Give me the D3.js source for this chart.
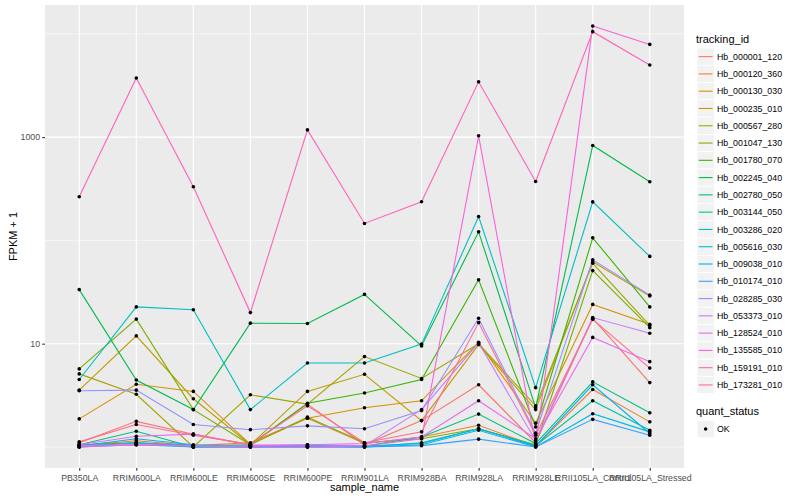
<!DOCTYPE html>
<html><head><meta charset="utf-8">
<script src="https://cdn.jsdelivr.net/npm/d3@7"></script>
<style>body{margin:0;background:#fff}svg{display:block}</style>
</head><body>
<svg id="c" width="800" height="500"></svg>
<script>
const categories = ["PB350LA","RRIM600LA","RRIM600LE","RRIM600SE","RRIM600PE","RRIM901LA","RRIM928BA","RRIM928LA","RRIM928LE","RRII105LA_Control","RRII105LA_Stressed"];
const trackingIds = ["Hb_000001_120","Hb_000120_360","Hb_000130_030","Hb_000235_010","Hb_000567_280","Hb_001047_130","Hb_001780_070","Hb_002245_040","Hb_002780_050","Hb_003144_050","Hb_003286_020","Hb_005616_030","Hb_009038_010","Hb_010174_010","Hb_028285_030","Hb_053373_010","Hb_128524_010","Hb_135585_010","Hb_159191_010","Hb_173281_010"];
const colors = ["#F8766D","#EA8331","#D89000","#C09B00","#A3A500","#7CAE00","#39B600","#00BB4E","#00BF7D","#00C1A3","#00BFC4","#00BAE0","#00B0F6","#35A2FF","#9590FF","#C77CFF","#E76BF3","#FA62DB","#FF62BC","#FF6C91"];
// FPKM + 1 per series, in category order
const s000001_120 = [1.10, 1.77, 1.33, 1.05, 2.6, 1.05, 1.8, 4.0, 1.10, 17.6, 4.2];
const s000120_360 = [1.03, 1.15, 1.03, 1.10, 1.9, 1.08, 1.25, 1.62, 1.02, 3.6, 1.75];
const s000130_030 = [1.87, 4.05, 3.45, 1.06, 1.9, 2.4, 2.8, 10.3, 1.70, 24, 15.4];
const s000235_010 = [3.55, 11.9, 2.93, 1.05, 3.45, 5.05, 1.8, 9.8, 2.3, 62, 29];
const s000567_280 = [5.1, 3.24, 1.0, 3.2, 2.6, 7.5, 4.6, 10.0, 2.5, 60, 15];
const s001047_130 = [5.7, 17.3, 2.3, 1.05, 1.95, 1.1, 1.2, 1.5, 1.05, 51, 14.3];
const s001780_070 = [1.05, 1.1, 1.02, 1.05, 2.65, 3.33, 4.5, 41.5, 1.56, 106, 22.7];
const s002245_040 = [33.4, 4.45, 2.3, 15.8, 15.7, 30, 9.5, 121, 2.4, 830, 370];
const s002780_050 = [1.05, 1.42, 1.0, 1.02, 1.03, 1.02, 1.25, 2.08, 1.08, 4.27, 2.14];
const s003144_050 = [1.02, 1.1, 1.0, 1.0, 1.02, 1.0, 1.1, 1.5, 1.03, 2.8, 1.45];
const s003286_020 = [4.5, 22.7, 21.3, 2.3, 6.5, 6.5, 9.9, 170, 3.75, 236, 70];
const s005616_030 = [1.0, 1.05, 1.0, 1.0, 1.0, 1.0, 1.05, 1.45, 1.0, 2.1, 1.4];
const s009038_010 = [1.02, 1.2, 1.05, 1.02, 1.02, 1.02, 1.08, 1.5, 1.02, 4.0, 1.35];
const s010174_010 = [1.0, 1.1, 1.03, 1.0, 1.0, 1.0, 1.03, 1.19, 1.0, 1.85, 1.3];
const s028285_030 = [3.5, 3.55, 1.65, 1.47, 1.6, 1.5, 2.25, 17.6, 1.36, 65, 29.5];
const s053373_010 = [1.03, 1.05, 1.02, 1.02, 1.05, 1.03, 2.3, 10.2, 1.15, 17.9, 12.6];
const s128524_010 = [1.05, 1.27, 1.33, 1.04, 1.05, 1.08, 1.25, 2.8, 1.2, 11.5, 6.7];
const s135585_010 = [1.0, 1.05, 1.02, 1.0, 1.0, 1.02, 1.2, 1030, 1.05, 11900, 7900];
const s159191_010 = [265, 3740, 331, 20, 1175, 146, 237, 3430, 372, 10500, 5000];
const s173281_010 = [1.12, 1.65, 1.3, 1.06, 2.5, 1.1, 1.4, 16, 1.3, 17.2, 5.8];
const seriesValues = [s000001_120,s000120_360,s000130_030,s000235_010,s000567_280,s001047_130,s001780_070,s002245_040,s002780_050,s003144_050,s003286_020,s005616_030,s009038_010,s010174_010,s028285_030,s053373_010,s128524_010,s135585_010,s159191_010,s173281_010];
const yTicks = [10, 1000];
const yMinor = [1, 100, 10000];
const statusLabels = ["OK"];

const svg = d3.select("#c");
const font = "'Liberation Sans', Arial, Helvetica, sans-serif";
const L = 45, R = 684, T = 5, B = 468;

const all = seriesValues.flat();
const lo = Math.log10(d3.min(all)), hi = Math.log10(d3.max(all));
const ex = (hi - lo) * 0.05;
const y = d3.scaleLog().domain([Math.pow(10, lo - ex), Math.pow(10, hi + ex)]).range([B, T]);
const x = d3.scalePoint().domain(categories).range([L, R]).padding(0.6);

svg.append("rect").attr("x", L).attr("y", T).attr("width", R - L).attr("height", B - T).attr("fill", "#EBEBEB");
const g = svg.append("g");
g.selectAll(".ymin").data(yMinor).join("line")
  .attr("x1", L).attr("x2", R).attr("y1", d => y(d)).attr("y2", d => y(d))
  .attr("stroke", "#fff").attr("stroke-width", 0.55);
g.selectAll(".ymaj").data(yTicks).join("line")
  .attr("x1", L).attr("x2", R).attr("y1", d => y(d)).attr("y2", d => y(d))
  .attr("stroke", "#fff").attr("stroke-width", 1.1);
g.selectAll(".xmaj").data(categories).join("line")
  .attr("x1", d => x(d)).attr("x2", d => x(d)).attr("y1", T).attr("y2", B)
  .attr("stroke", "#fff").attr("stroke-width", 1.1);

const line = d3.line().x((d, i) => x(categories[i])).y(d => y(d));
svg.append("g").selectAll("path").data(seriesValues).join("path")
  .attr("d", d => line(d)).attr("fill", "none")
  .attr("stroke", (d, i) => colors[i]).attr("stroke-width", 1.1);

const pts = [];
seriesValues.forEach(s => s.forEach((v, i) => pts.push([categories[i], v])));
svg.append("g").selectAll("circle").data(pts).join("circle")
  .attr("cx", d => x(d[0])).attr("cy", d => y(d[1])).attr("r", 1.8).attr("fill", "#000");

// axes
const ya = svg.append("g").attr("transform", `translate(${L},0)`)
  .call(d3.axisLeft(y).tickValues(yTicks).tickFormat(d3.format("d")).tickSize(2.75).tickPadding(2.2));
ya.select(".domain").remove();
ya.selectAll("line").attr("stroke", "#333").attr("stroke-width", 1.1);
ya.selectAll("text").attr("fill", "#4D4D4D").style("font-family", font).style("font-size", "8.8px");

const xa = svg.append("g").attr("transform", `translate(0,${B})`)
  .call(d3.axisBottom(x).tickSize(2.75));
xa.select(".domain").remove();
xa.selectAll("line").attr("stroke", "#333").attr("stroke-width", 1.1);
xa.selectAll("text").attr("fill", "#4D4D4D").attr("y", 12.7).attr("dy", 0)
  .style("font-family", font).style("font-size", "8.8px");

svg.append("text").attr("x", (L + R) / 2).attr("y", 490.5).attr("text-anchor", "middle")
  .style("font-family", font).style("font-size", "11px").text("sample_name");
svg.append("text").attr("transform", `translate(16.5,${(T + B) / 2}) rotate(-90)`).attr("text-anchor", "middle")
  .style("font-family", font).style("font-size", "11px").text("FPKM + 1");

// legend: tracking_id
const lx = 697, ks = 17.28, k0 = 48;
svg.append("text").attr("x", 696).attr("y", 43.3)
  .style("font-family", font).style("font-size", "11px").text("tracking_id");
const lg = svg.append("g").selectAll("g").data(trackingIds).join("g")
  .attr("transform", (d, i) => `translate(${lx},${k0 + i * ks})`);
lg.append("rect").attr("width", ks).attr("height", ks).attr("fill", "#F2F2F2").attr("stroke", "#fff").attr("stroke-width", 0.8);
lg.append("line").attr("x1", 1.7).attr("x2", ks - 1.7).attr("y1", ks / 2).attr("y2", ks / 2)
  .attr("stroke", (d, i) => colors[i]).attr("stroke-width", 1.1);
lg.append("text").attr("x", ks + 2.7).attr("y", ks / 2).attr("dy", "0.35em")
  .style("font-family", font).style("font-size", "8.8px").text(d => d);

// legend: quant_status
svg.append("text").attr("x", 696).attr("y", 415.3)
  .style("font-family", font).style("font-size", "11px").text("quant_status");
const qg = svg.append("g").selectAll("g").data(statusLabels).join("g")
  .attr("transform", (d, i) => `translate(${lx},${420.4 + i * ks})`);
qg.append("rect").attr("width", ks).attr("height", ks).attr("fill", "#F2F2F2").attr("stroke", "#fff").attr("stroke-width", 0.8);
qg.append("circle").attr("cx", ks / 2).attr("cy", ks / 2).attr("r", 1.8).attr("fill", "#000");
qg.append("text").attr("x", ks + 2.7).attr("y", ks / 2).attr("dy", "0.35em")
  .style("font-family", font).style("font-size", "8.8px").text(d => d);
</script>
</body></html>
